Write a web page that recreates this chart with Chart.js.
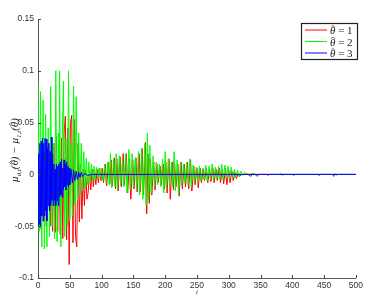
<!DOCTYPE html>
<html>
<head>
<meta charset="utf-8">
<script src="https://cdn.jsdelivr.net/npm/chart.js@4"></script>
<style>
  body { margin: 0; background: #fff; }
</style>
</head>
<body>
<canvas id="chart1" width="366" height="294"></canvas>
<script>
// theta-hat = 1 (red)
var redX = [1, 3, 5, 7, 9, 11, 13, 15, 17, 19, 21, 23, 25, 27, 29, 31, 33, 35, 37, 39, 41, 43, 45, 47, 49, 51, 53, 55, 57, 59, 61, 63, 65, 67, 69, 71, 73, 75, 77, 79, 81, 83, 85, 87, 89, 91, 93, 95, 97, 99,
    101, 103, 106, 108, 111, 113, 115, 117, 120, 122, 124, 126, 129, 131, 134, 136, 139, 141, 144, 146, 149, 151, 154, 156, 159, 161, 164, 166, 169, 171, 173, 175, 177, 179,
    182, 184, 187, 189, 192, 194, 197, 199, 201, 203, 206, 208, 211, 213, 215, 217, 220, 222, 225, 227, 230, 232, 235, 237, 240, 242, 245, 247, 250, 252, 255, 257, 260, 262,
    265, 267, 270, 272, 275, 277, 280, 282, 285, 287, 290, 292, 295, 297, 300, 302, 305, 307, 310, 312, 315, 317, 320, 330, 335, 337, 343, 345, 347, 360, 362, 364,
    400, 402, 404, 440, 442, 444, 463, 465, 467, 500];
var redY = [-0.05, 0.01, -0.053, 0.015, -0.045, 0.02, -0.05, 0.025, 0.03, -0.05, 0.02, -0.055, 0.03, -0.056, 0.037, -0.055, 0.03, -0.058, 0.035, -0.062, 0.04, 0.056, -0.063, 0.045, -0.087, 0.05, 0.057, -0.066, 0.053, -0.06, -0.07, 0.03, -0.046, 0.01, -0.043, 0.005, -0.03, 0.004, -0.024, -0.017, 0.004, -0.015, 0.005, -0.012, 0.004, -0.01, 0.005, -0.008, 0.006, -0.006,
    0.006, -0.008, 0.01, -0.011, 0.012, -0.009, 0.014, -0.011, 0.016, -0.014, 0.015, -0.016, 0.017, -0.012, 0.02, -0.01, 0.02, -0.018, 0.015, -0.024, 0.014, -0.014, 0.016, -0.017, 0.02, -0.017, 0.025, -0.02, 0.031, -0.038, 0.02, -0.028, 0.015, -0.02,
    0.012, -0.015, 0.01, -0.008, 0.008, -0.01, 0.01, -0.014, 0.012, -0.018, 0.015, -0.024, 0.012, -0.015, 0.01, -0.012, 0.01, -0.021, 0.012, -0.014, 0.01, -0.012, 0.012, -0.014, 0.014, -0.016, 0.008, -0.01, 0.006, -0.013, 0.006, -0.008, 0.005, -0.006,
    0.006, -0.008, 0.005, -0.007, 0.006, -0.008, 0.005, -0.006, 0.006, -0.008, 0.005, -0.009, 0.006, -0.01, 0.004, -0.008, 0.003, -0.006, 0.002, -0.004, 0.001, -0.002, 0, 0, -0.002, 0, 0, -0.002, 0, 0, -0.001, 0,
    0, -0.001, 0, 0, -0.001, 0, 0, -0.002, 0, 0];

// theta-hat = 2 (green)
var greenX = [0, 2, 4, 6, 8, 10, 12, 14, 16, 18, 20, 22, 24, 26, 28, 30, 32, 33, 34, 36, 38, 40, 42, 44, 46, 48, 50, 52, 54, 56, 58, 60, 62, 64, 66, 68, 70, 72, 74, 76, 78, 80, 82, 84, 86, 88, 90, 92, 94, 96, 98,
    100, 102, 105, 107, 110, 112, 114, 116, 119, 121, 123, 125, 128, 130, 133, 135, 138, 140, 143, 145, 148, 150, 153, 155, 158, 160, 163, 165, 168, 170, 172, 174, 176, 178,
    181, 183, 186, 188, 191, 193, 196, 198, 200, 202, 205, 207, 210, 212, 214, 216, 219, 221, 224, 226, 229, 231, 234, 236, 239, 241, 244, 246, 249, 251, 254, 256, 259, 261,
    264, 266, 269, 271, 274, 276, 279, 281, 284, 286, 289, 291, 294, 296, 299, 301, 304, 306, 309, 311, 314, 316, 319, 322, 325, 330, 340, 342, 345, 380, 382, 384, 386,
    465, 467, 469, 471, 500];
var greenY = [0.09, -0.055, 0.08, -0.07, 0.072, -0.072, 0.058, -0.07, 0.045, -0.06, 0.085, -0.05, 0.03, -0.062, 0.1, -0.065, 0.04, -0.03, 0.1, -0.07, 0.03, 0.09, -0.06, 0.035, -0.05, 0.1, -0.045, 0.03, -0.04, 0.085, -0.03, 0.075, -0.025, 0.04, -0.02, 0.03, -0.016, 0.022, -0.012, 0.016, -0.01, 0.012, -0.008, 0.01, -0.006, 0.008, -0.005, 0.007, -0.004, 0.006, -0.003,
    0.005, -0.006, 0.01, -0.008, 0.012, -0.01, 0.02, -0.013, 0.015, -0.012, 0.02, -0.015, 0.018, -0.01, 0.015, -0.012, 0.02, -0.018, 0.024, -0.015, 0.02, -0.012, 0.015, -0.015, 0.022, -0.02, 0.025, -0.024, 0.03, -0.03, 0.04, -0.025, 0.028, -0.018,
    0.018, -0.012, 0.012, -0.01, 0.01, -0.012, 0.015, -0.018, 0.022, -0.014, 0.015, -0.01, 0.012, -0.012, 0.022, -0.016, 0.014, -0.021, 0.012, -0.01, 0.01, -0.008, 0.012, -0.01, 0.015, -0.012, 0.009, -0.007, 0.007, -0.008, 0.008, -0.006, 0.006, -0.005,
    0.009, -0.006, 0.008, -0.005, 0.01, -0.006, 0.007, -0.004, 0.008, -0.005, 0.01, -0.005, 0.009, -0.004, 0.008, -0.004, 0.007, -0.003, 0.005, -0.003, 0.004, -0.002, 0.003, -0.001, 0.002, 0, 0.001, -0.001, 0, 0, 0.001, -0.001, 0,
    0, 0.001, -0.001, 0, 0];

// theta-hat = 3 (blue)
var blueX = [0, 1, 2, 3, 4, 5, 6, 7, 8, 9, 10, 11, 12, 13, 14, 15, 16, 17, 18, 19, 20, 21, 22, 23, 24, 25, 26, 27, 28, 29, 30, 31, 32, 33, 34, 35, 36, 37, 38, 39, 40, 41, 42, 43, 44, 45, 46, 47, 48, 49, 50,
    52, 54, 56, 58, 60, 62, 64, 66, 68, 70, 74, 78, 85, 500];
var blueY = [-0.05, 0.02, -0.048, 0.03, -0.05, 0.032, -0.04, 0.035, -0.045, 0.03, -0.04, 0.035, -0.035, 0.034, -0.045, 0.025, -0.03, 0.03, -0.035, 0.022, -0.03, 0.036, -0.025, 0.02, -0.03, 0.01, -0.025, 0.005, -0.03, 0.01, -0.025, 0.008, -0.03, 0.01, -0.022, 0.012, -0.02, 0.015, -0.022, 0.006, -0.015, 0.014, -0.012, 0.01, -0.015, 0.012, -0.01, 0.008, -0.012, 0.006, -0.01,
    0.005, -0.008, 0.004, -0.006, 0.003, -0.005, 0.002, -0.003, 0.002, -0.002, 0.001, -0.001, 0, 0];

var xTicks = [0, 50, 100, 150, 200, 250, 300, 350, 400, 450, 500];
var yTicks = [-0.1, -0.05, 0, 0.05, 0.1, 0.15];
var seriesLabels = ['\u03B8\u0302 = 1', '\u03B8\u0302 = 2', '\u03B8\u0302 = 3'];
var seriesColors = ['#ff0000', '#00ff00', '#0000ff'];

function pts(xs, ys) {
    return xs.map(function (x, i) { return { x: x, y: ys[i] }; });
}

// italic theta with a hat drawn on top (the combining accent renders badly)
function thetaHat(c, x, y, size) {
    c.font = 'italic ' + size + 'px "Liberation Serif", serif';
    c.fillText('\u03B8', x, y);
    var w = c.measureText('\u03B8').width;
    var top = y - size * 0.62;
    c.save();
    c.strokeStyle = c.fillStyle;
    c.lineWidth = 0.7;
    c.beginPath();
    c.moveTo(x + w * 0.22, top);
    c.lineTo(x + w * 0.55, top - size * 0.16);
    c.lineTo(x + w * 0.88, top);
    c.stroke();
    c.restore();
    return w;
}

var extras = {
    id: 'extras',
    afterDraw: function (chart) {
        var c = chart.ctx;
        var xs = chart.scales.x, ys = chart.scales.y;
        var area = chart.chartArea;
        c.save();
        // inward tick marks
        c.strokeStyle = '#444';
        c.lineWidth = 1;
        c.beginPath();
        xTicks.forEach(function (t) {
            var px = Math.round(xs.getPixelForValue(t)) + 0.5;
            c.moveTo(px, area.bottom);
            c.lineTo(px, area.bottom - 3);
        });
        yTicks.forEach(function (t) {
            var py = Math.round(ys.getPixelForValue(t)) + 0.5;
            c.moveTo(area.left, py);
            c.lineTo(area.left + 3, py);
        });
        c.stroke();

        // legend box
        var bx = 301, by = 23, bw = 56, bh = 36;
        c.fillStyle = '#fff';
        c.fillRect(bx, by, bw, bh);
        c.strokeStyle = '#222';
        c.lineWidth = 1.2;
        c.strokeRect(bx + 0.5, by + 0.5, bw, bh);
        c.textBaseline = 'alphabetic';
        seriesLabels.forEach(function (lab, i) {
            var ly = by + 7 + i * 11.5;
            c.strokeStyle = seriesColors[i];
            c.lineWidth = 1;
            c.beginPath();
            c.moveTo(bx + 4, ly);
            c.lineTo(bx + 26, ly);
            c.stroke();
            c.fillStyle = '#222';
            var w = thetaHat(c, bx + 29, ly + 4, 11);
            c.font = '11px "Liberation Serif", serif';
            c.fillText(lab.slice(2), bx + 29 + w, ly + 4);
        });

        // y axis title with subscripts
        c.translate(18, 150);
        c.rotate(-Math.PI / 2);
        var parts = [
            ['\u03BC', 11, 0], ['\u03B8,t', 7, 3], ['(', 11, 0], ['H', 11, 0], [')', 11, 0], [' \u2212 ', 11, 0],
            ['\u03BC', 11, 0], ['1,t', 7, 3], ['(', 11, 0], ['H', 11, 0], [')', 11, 0]
        ];
        var total = 0;
        parts.forEach(function (p) {
            c.font = 'italic ' + p[1] + 'px "Liberation Serif", serif';
            total += c.measureText(p[0] === 'H' ? '\u03B8' : p[0]).width;
        });
        var cx = -total / 2;
        c.fillStyle = '#222';
        c.textBaseline = 'alphabetic';
        parts.forEach(function (p) {
            if (p[0] === 'H') {
                cx += thetaHat(c, cx, 0, p[1]);
                return;
            }
            c.font = 'italic ' + p[1] + 'px "Liberation Serif", serif';
            c.fillText(p[0], cx, p[2]);
            cx += c.measureText(p[0]).width;
        });
        c.restore();

        // x axis title
        c.save();
        c.fillStyle = '#333';
        c.font = 'italic 7px "Liberation Serif", serif';
        c.textAlign = 'center';
        c.textBaseline = 'alphabetic';
        c.fillText('t', xs.getPixelForValue(250), 294);
        c.restore();
    }
};

var ctx1 = document.getElementById('chart1').getContext('2d');
var myChart1 = new Chart(ctx1, {
    type: 'line',
    data: {
        datasets: [{
            label: seriesLabels[2],
            data: pts(blueX, blueY),
            borderColor: seriesColors[2],
            borderWidth: 1,
            pointRadius: 0,
            order: 1
        }, {
            label: seriesLabels[1],
            data: pts(greenX, greenY),
            borderColor: seriesColors[1],
            borderWidth: 1,
            pointRadius: 0,
            order: 2
        }, {
            label: seriesLabels[0],
            data: pts(redX, redY),
            borderColor: seriesColors[0],
            borderWidth: 1,
            pointRadius: 0,
            order: 3
        }]
    },
    options: {
        responsive: false,
        animation: false,
        layout: { padding: { top: 19, right: 5, left: 0, bottom: 0 } },
        plugins: {
            legend: { display: false },
            tooltip: { enabled: false }
        },
        scales: {
            x: {
                type: 'linear',
                min: 0,
                max: 500,
                afterFit: function (s) { s.height = 16; },
                afterBuildTicks: function (s) { s.ticks = xTicks.map(function (v) { return { value: v }; }); },
                grid: { drawOnChartArea: false, drawTicks: false },
                border: { display: true, color: '#555', width: 1 },
                ticks: { color: '#333', font: { size: 8.5, family: 'Liberation Sans, Arial, sans-serif' }, padding: 3, maxRotation: 0 }
            },
            y: {
                min: -0.1,
                max: 0.15,
                afterFit: function (s) { s.width = 38; },
                afterBuildTicks: function (s) { s.ticks = yTicks.map(function (v) { return { value: v }; }); },
                grid: { drawOnChartArea: false, drawTicks: false },
                border: { display: true, color: '#555', width: 1 },
                ticks: {
                    color: '#333',
                    font: { size: 8.5, family: 'Liberation Sans, Arial, sans-serif' },
                    padding: 4,
                    callback: function (v) { return String(Math.round(v * 100) / 100); }
                }
            }
        }
    },
    plugins: [extras]
});
</script>
</body>
</html>
